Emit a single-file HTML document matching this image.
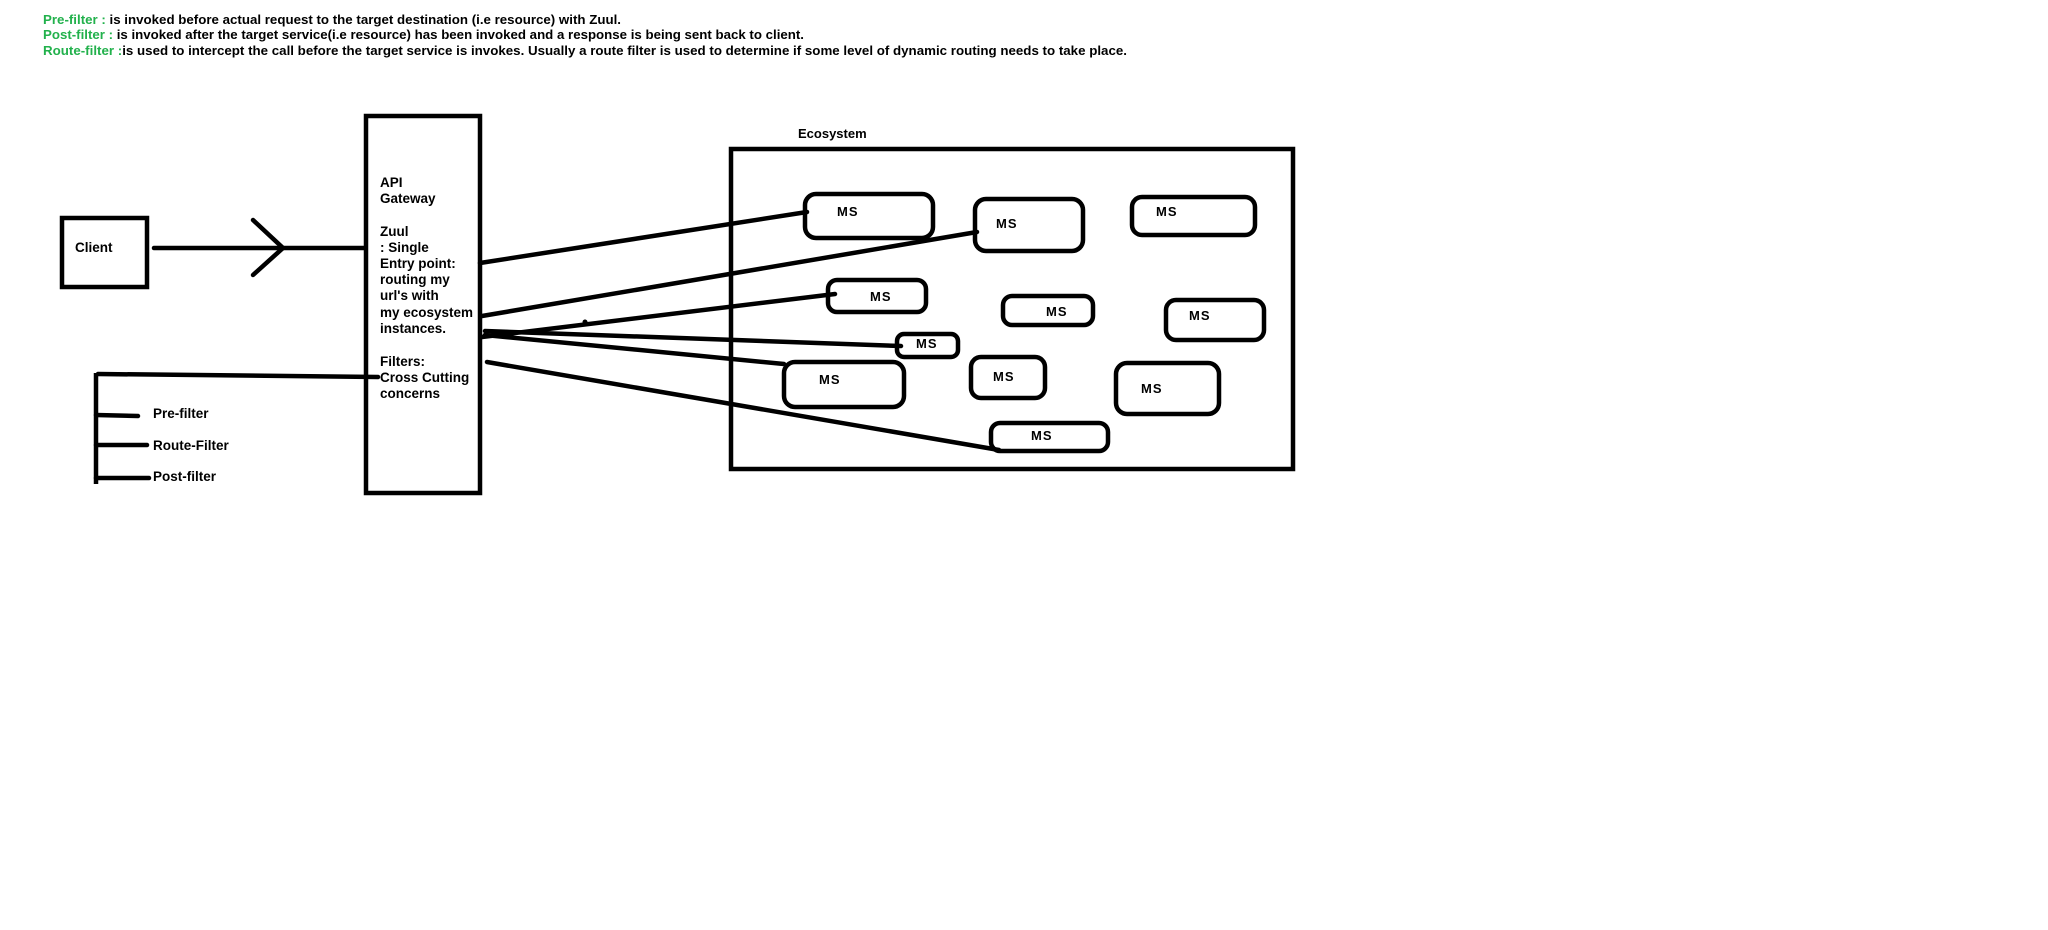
<!DOCTYPE html>
<html><head><meta charset="utf-8"><style>
html,body{margin:0;padding:0;background:#fff;}
svg{display:block;}
text{font-family:"Liberation Sans",sans-serif;font-weight:bold;}
</style></head><body>
<svg width="2048" height="930" viewBox="0 0 2048 930" xmlns="http://www.w3.org/2000/svg">
<rect width="2048" height="930" fill="#fff"/>
<g font-size="12.5">
<text x="43" y="24" textLength="578" lengthAdjust="spacingAndGlyphs"><tspan fill="#22b14c">Pre-filter : </tspan><tspan fill="#000">is invoked before actual request to the target destination (i.e resource) with Zuul.</tspan></text>
<text x="43" y="39" textLength="761" lengthAdjust="spacingAndGlyphs"><tspan fill="#22b14c">Post-filter : </tspan><tspan fill="#000">is invoked after the target service(i.e resource) has been invoked and a response is being sent back to client.</tspan></text>
<text x="43" y="55" textLength="1084" lengthAdjust="spacingAndGlyphs"><tspan fill="#22b14c">Route-filter :</tspan><tspan fill="#000">is used to intercept the call before the target service is invokes. Usually a route filter is used to determine if some level of dynamic routing needs to take place.</tspan></text>
</g>
<g fill="none" stroke="#000" stroke-width="4.5" stroke-linecap="round">
<rect x="62" y="218" width="85" height="69" stroke-linecap="butt"/>
<line x1="154" y1="248" x2="364" y2="248"/>
<polyline points="253,220 283,248 253,275"/>
<rect x="366" y="116" width="114" height="377" stroke-linecap="butt"/>
<line x1="96" y1="373" x2="96" y2="484" stroke-linecap="butt"/>
<line x1="98" y1="374" x2="378" y2="377"/>
<line x1="96" y1="415" x2="138" y2="416"/>
<line x1="96" y1="445" x2="147" y2="445"/>
<line x1="96" y1="478" x2="149" y2="478"/>
<rect x="731" y="149" width="562" height="320" stroke-linecap="butt"/>
<line x1="480" y1="263" x2="807" y2="212"/>
<line x1="482" y1="316" x2="977" y2="232"/>
<line x1="482" y1="337" x2="835" y2="294"/>
<line x1="485" y1="331" x2="901" y2="346"/>
<line x1="485" y1="335" x2="784" y2="364"/>
<line x1="487" y1="362" x2="999" y2="450"/>
<rect x="805" y="194" width="128" height="44" rx="11"/>
<rect x="975" y="199" width="108" height="52" rx="11"/>
<rect x="1132" y="197" width="123" height="38" rx="10"/>
<rect x="828" y="280" width="98" height="32" rx="9"/>
<rect x="1003" y="296" width="90" height="29" rx="9"/>
<rect x="1166" y="300" width="98" height="40" rx="10"/>
<rect x="897" y="334" width="61" height="23" rx="7"/>
<rect x="784" y="362" width="120" height="45" rx="11"/>
<rect x="971" y="357" width="74" height="41" rx="10"/>
<rect x="1116" y="363" width="103" height="51" rx="11"/>
<rect x="991" y="423" width="117" height="28" rx="9"/>
</g>
<circle cx="585" cy="322" r="2.5" fill="#000"/>
<g font-size="13.5" fill="#000">
<text x="75" y="252">Client</text>
<text x="380" y="187">API</text>
<text x="380" y="203">Gateway</text>
<text x="380" y="236">Zuul</text>
<text x="380" y="252">: Single</text>
<text x="380" y="268">Entry point:</text>
<text x="380" y="284">routing my</text>
<text x="380" y="300">url's with</text>
<text x="380" y="317">my ecosystem</text>
<text x="380" y="333">instances.</text>
<text x="380" y="366">Filters:</text>
<text x="380" y="382">Cross Cutting</text>
<text x="380" y="398">concerns</text>
<text x="153" y="418">Pre-filter</text>
<text x="153" y="450">Route-Filter</text>
<text x="153" y="481">Post-filter</text>
<text x="798" y="138" font-weight="normal" font-size="13">Ecosystem</text>
</g>
<g font-size="13" fill="#000" letter-spacing="1">
<text x="837" y="216">MS</text>
<text x="996" y="228">MS</text>
<text x="1156" y="216">MS</text>
<text x="870" y="301">MS</text>
<text x="1046" y="316">MS</text>
<text x="1189" y="320">MS</text>
<text x="916" y="348">MS</text>
<text x="819" y="384">MS</text>
<text x="993" y="381">MS</text>
<text x="1141" y="393">MS</text>
<text x="1031" y="440">MS</text>
</g>
</svg>
</body></html>
